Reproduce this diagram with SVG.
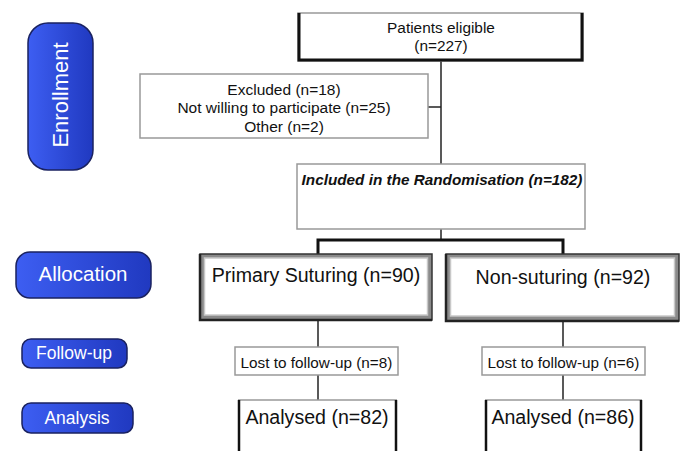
<svg xmlns="http://www.w3.org/2000/svg" width="686" height="451" viewBox="0 0 686 451">
<defs>
<linearGradient id="blue" x1="0" y1="0" x2="1" y2="0">
<stop offset="0" stop-color="#3d5ef2"/>
<stop offset="1" stop-color="#2039c0"/>
</linearGradient>
<style>
text{font-family:"Liberation Sans",Arial,sans-serif;text-anchor:middle;fill:#111}
.pill{fill:url(#blue);stroke:#1a2260;stroke-width:1.5}
.pt{fill:#fff}
.box{fill:#fff;stroke:#999;stroke-width:1.5}
.conn{stroke:#222;stroke-width:1.5;fill:none}
.thick{stroke:#111;stroke-width:3;fill:none}
.outer{fill:#8a8a8a;stroke:#333;stroke-width:1.5}
.shade{fill:none;stroke:#222;stroke-width:2.5}
.inner{fill:#fff;stroke:#c8c8c8;stroke-width:1.5}
</style>
</defs>
<rect width="686" height="451" fill="#fff"/>

<g id="connectors">
<line class="conn" x1="441" y1="61" x2="441" y2="164"/>
<line class="conn" x1="428" y1="107" x2="441" y2="107"/>
<line class="conn" x1="441" y1="229" x2="441" y2="240"/>
<polyline class="thick" points="318,254 318,240 563,240 563,254"/>
<line class="conn" x1="318" y1="321" x2="318" y2="347"/>
<line class="conn" x1="318" y1="375" x2="318" y2="400"/>
<line class="conn" x1="563" y1="322" x2="563" y2="347"/>
<line class="conn" x1="563" y1="375" x2="563" y2="400"/>
</g>

<g id="enrollment">
<rect class="pill" x="28" y="23" width="65" height="147" rx="20" ry="20"/>
<text class="pt" x="0" y="0" font-size="22" transform="translate(68,95) rotate(-90)">Enrollment</text>
</g>
<g id="allocation">
<rect class="pill" x="16" y="252" width="135" height="46" rx="14" ry="14"/>
<text class="pt" x="83" y="281" font-size="20.5">Allocation</text>
</g>
<g id="followup">
<rect class="pill" x="22" y="339" width="105" height="29" rx="9" ry="9"/>
<text class="pt" x="74" y="359" font-size="17.5">Follow-up</text>
</g>
<g id="analysis">
<rect class="pill" x="22" y="403" width="111" height="30" rx="9" ry="9"/>
<text class="pt" x="77" y="424" font-size="17.5">Analysis</text>
</g>

<g id="eligible">
<rect class="box" x="298" y="13" width="285" height="48"/>
<polyline class="thick" points="299,13 299,60 582,60 582,13"/>
<text x="441" y="33" font-size="15.4">Patients eligible</text>
<text x="441" y="51" font-size="15.4">(n=227)</text>
</g>

<g id="excluded">
<rect class="box" x="140" y="74" width="288" height="64"/>
<text x="284" y="95" font-size="15.5">Excluded (n=18)</text>
<text x="284" y="113" font-size="15.5">Not willing to participate (n=25)</text>
<text x="284" y="132" font-size="15.5">Other (n=2)</text>
</g>

<g id="randomisation">
<rect class="box" x="297" y="164" width="288" height="65"/>
<text x="442" y="184.5" font-size="15.3" font-weight="bold" font-style="italic">Included in the Randomisation (n=182)</text>
</g>

<g id="primary">
<rect class="outer" x="200" y="254" width="232" height="66"/>
<polyline class="shade" points="200,254 200,320 432,320"/>
<rect class="inner" x="204.5" y="258" width="223" height="57"/>
<text x="316" y="282" font-size="19.6">Primary Suturing (n=90)</text>
</g>

<g id="nonsuturing">
<rect class="outer" x="446" y="254" width="233" height="67"/>
<polyline class="shade" points="446,254 446,321 679,321"/>
<rect class="inner" x="450.5" y="258" width="224" height="58"/>
<text x="563" y="284" font-size="19.6">Non-suturing (n=92)</text>
</g>

<g id="lost1">
<rect class="box" x="235" y="347" width="163" height="28"/>
<text x="316.5" y="368" font-size="15.3">Lost to follow-up (n=8)</text>
</g>
<g id="lost2">
<rect class="box" x="482" y="347" width="163" height="28"/>
<text x="563.5" y="368" font-size="15.3">Lost to follow-up (n=6)</text>
</g>

<g id="analysed1">
<line x1="238" y1="400" x2="397" y2="400" stroke="#999" stroke-width="1.5"/>
<line x1="239" y1="400" x2="239" y2="451" stroke="#111" stroke-width="2.5"/>
<line x1="396" y1="400" x2="396" y2="451" stroke="#111" stroke-width="2.5"/>
<text x="317" y="424" font-size="19.6">Analysed (n=82)</text>
</g>
<g id="analysed2">
<line x1="485" y1="400" x2="642" y2="400" stroke="#999" stroke-width="1.5"/>
<line x1="486" y1="400" x2="486" y2="451" stroke="#111" stroke-width="2.5"/>
<line x1="641" y1="400" x2="641" y2="451" stroke="#111" stroke-width="2.5"/>
<text x="563" y="424" font-size="19.6">Analysed (n=86)</text>
</g>
</svg>
